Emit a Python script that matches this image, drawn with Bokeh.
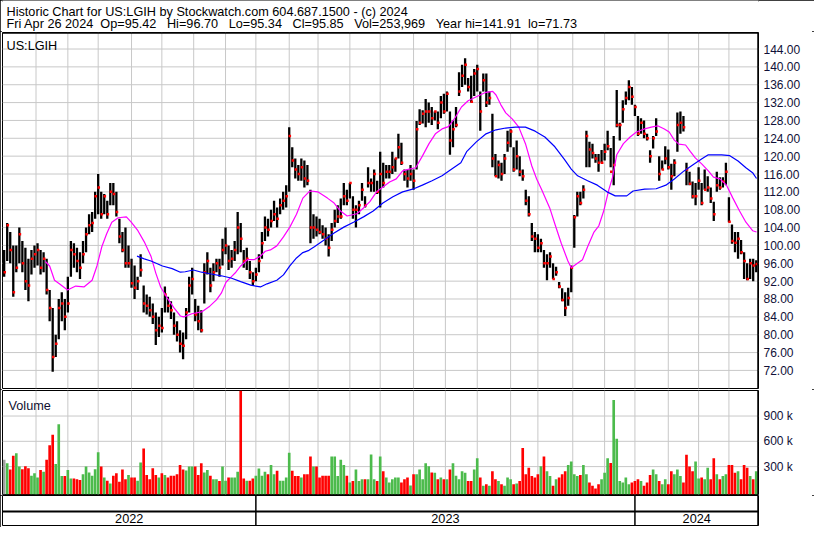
from bokeh.plotting import figure
from bokeh.layouts import column
from bokeh.models import Range1d, FixedTicker, Label, Span, NumeralTickFormatter
from bokeh.embed import file_html
from bokeh.resources import INLINE
from bokeh.core.properties import value

# ---------------- data (one bar = two trading days) ----------------
bar_high = [
    99, 105, 103, 100, 100, 104, 101, 99.5, 97, 99,
    100, 100.5, 99, 98.5, 97, 90, 86, 80, 88, 89.5,
    88, 93, 101, 100.5, 99.5, 98.5, 101, 104, 107, 107.5,
    112, 116, 112, 111.5, 110, 114, 114, 112, 106, 103,
    104, 100, 97, 95.5, 93, 98, 91, 89, 88.5, 87,
    85, 84, 86, 90.8, 88.5, 87.5, 85, 83, 81, 80.5,
    86, 93, 95, 88, 86.5, 85.5, 96, 98.5, 95, 96,
    97, 97, 101.5, 104, 100, 99, 101, 107.5, 105, 99,
    99.5, 96.5, 94, 95, 98, 103, 106.5, 106, 108, 110,
    108.5, 110.5, 112, 113.5, 126.5, 122, 119.5, 118, 119.5, 119,
    118, 112.5, 107, 106.5, 106, 104.5, 104, 102.5, 105, 108,
    109, 110.5, 114, 112.5, 114, 111, 109, 110, 114, 111,
    117.5, 115, 117, 114.5, 121, 118.5, 118, 118, 121, 119.5,
    125, 123, 117, 117, 118, 117, 127.9, 130.5, 130.3, 132.8,
    132, 131, 130, 130, 133.5, 134, 134.5, 130, 128, 131,
    138.8, 140.5, 141.91, 137.5, 138, 139.5, 140.5, 134.5, 138.5, 138.5,
    134.5, 129.5, 120.5, 119, 118.5, 120.5, 125.7, 126, 122, 123.5,
    120, 117, 112.5, 111, 105, 103, 102.5, 101.5, 99, 98,
    98.5, 96, 95.2, 91.8, 90.4, 89.5, 90.5, 95.5, 106.8, 112,
    112, 113.5, 125.7, 123.2, 122.8, 120.5, 120.5, 121.4, 122.8, 125.7,
    121.8, 124.5, 134.8, 127.5, 132.5, 134.5, 137, 135.5, 131.5, 129,
    128.5, 128, 125, 121.3, 124.5, 128.5, 120, 119, 122.2, 121.5,
    118.3, 119.3, 129.8, 130, 129, 118.5, 116.5, 114.3, 114, 117.5,
    114, 117, 115.5, 113, 109.8, 116.5, 115.3, 115.3, 118.5, 110.8,
    104.7, 103, 103, 101.2, 98.5, 96, 97, 97, 96.7,
]
bar_low = [
    93, 96.5, 96, 88.5, 94, 96, 94, 90, 87.5, 93.5,
    95, 95.5, 93.5, 94, 89, 83, 71.73, 75, 79, 83,
    81, 85, 93, 95, 94, 92.5, 96, 98.5, 102.5, 103,
    106, 107, 106, 107, 106, 109, 109, 106.5, 100.5, 98.5,
    95, 95, 90.5, 88, 90, 93, 85, 84.5, 84, 82.4,
    77.7, 79.5, 80.5, 85, 85, 83.5, 80, 78.5, 76, 74.5,
    79, 85, 89, 83, 81, 80.5, 87, 93.5, 89.5, 92,
    94, 93, 95.5, 98, 94.5, 95, 96.5, 98, 98.5, 95,
    94.5, 92.5, 91, 92, 94, 97, 101, 102, 104, 105.5,
    104, 107, 108, 108.5, 112, 117.5, 115, 114.5, 114.5, 113,
    113.5, 100.5, 101.5, 102, 102.5, 101.5, 100, 97.5, 101, 104,
    105, 106, 109, 109, 110.5, 106, 104, 107, 110, 108.5,
    113, 112, 112, 111.5, 108.5, 113, 115, 115, 116, 116.5,
    119.5, 118, 114.5, 113, 114.5, 112.5, 117, 127, 127.3, 126.5,
    127.5, 127, 128, 126, 128.5, 129.5, 130, 120.3, 122, 126.5,
    133.5, 135.5, 136, 134.5, 132, 133.5, 134.5, 125.7, 134.5, 131,
    131.5, 117.5, 115.5, 115, 114.5, 116, 121, 122, 116.5, 117,
    115.5, 114.5, 109, 106.5, 101, 98.5, 98.5, 98.5, 95, 92.2,
    95, 92.5, 93.2, 90.4, 87.5, 84.2, 86.5, 89.5, 99.5, 106.5,
    109, 110.5, 117.5, 117.5, 119.5, 118.5, 116.5, 118.5, 119, 121.3,
    117.5, 113.5, 126.5, 123.5, 127.5, 131.5, 132.5, 131.5, 129, 124.5,
    125, 124, 123.5, 118.5, 121.7, 124.5, 114.5, 117, 118.2, 117,
    112.5, 115.5, 121, 125, 125.5, 113.5, 113.5, 110.5, 109, 112.5,
    109, 112.5, 112, 109.5, 105.5, 112, 112.5, 113, 113.5, 105.2,
    100.4, 98.5, 97, 98, 92.5, 92.2, 92.5, 92, 94,
]
bar_close = [
    94, 104.5, 99, 89.5, 95, 102.5, 96, 92, 91, 97,
    98, 99, 95, 97, 90, 86, 75, 78, 86, 87,
    84, 87, 99, 98, 96.5, 95, 98, 102.5, 104.5, 105,
    111, 113, 107, 111, 107, 112, 111.5, 107.5, 102, 99,
    96, 96, 91.5, 90.5, 92, 94.5, 87, 86.5, 85.5, 84,
    81, 82, 81.5, 89, 86.5, 85.5, 82, 80, 78, 77.5,
    85, 91, 92.5, 84.5, 83, 81, 94, 96.5, 91, 94,
    96, 95, 99, 100, 96.5, 97, 99, 104, 101.5, 96.5,
    97, 94, 92, 93.5, 96.5, 100.5, 104, 103.5, 105.5, 107,
    106, 109, 110, 111, 124.5, 119, 117, 116, 117.5, 115,
    114.5, 104, 104, 103.5, 103, 102.5, 101.5, 99.5, 103.5, 105.5,
    106.5, 106.5, 111, 110, 114, 108, 108, 109, 112.5, 109,
    114, 114, 116, 112, 116, 114, 116.5, 116.5, 117.5, 119.5,
    122, 118.5, 116, 115, 116, 114.5, 126, 127.5, 129.5, 130,
    130, 128.5, 130, 127.5, 132, 130, 134, 123.5, 126, 127,
    134.5, 138, 140.5, 135.5, 132.2, 138.5, 139.5, 130, 137, 132,
    133, 119.5, 115.5, 118, 116, 119.5, 123, 125.5, 117, 120,
    116.5, 115.5, 110, 107, 102, 101.5, 99.5, 100.5, 96, 96,
    97.5, 92.5, 94, 90.8, 87.8, 86, 88.2, 95, 106.3, 111,
    109.5, 112.5, 124.5, 121.5, 120.7, 119.5, 118.5, 118.5, 121, 122.2,
    116.5, 118, 127, 127, 130.5, 133, 135.5, 133.3, 131, 125,
    127.5, 125, 124, 120, 124, 125.5, 116, 117, 119.5, 117.5,
    115.5, 118.5, 127, 127.5, 126.5, 117, 113.8, 111, 111, 114.5,
    109.5, 112.5, 113, 110.5, 107, 113.5, 113, 114.3, 116.5, 105.3,
    101, 100.6, 101.5, 98.5, 96.5, 92.5, 96, 95.5, 95.85,
]
volume_k = [
    380, 340, 265, 430, 458, 300, 270, 304, 280, 190,
    220, 170, 260, 240, 380, 554, 677, 330, 804, 188,
    188, 260, 160, 160, 150, 140, 210, 300, 230, 190,
    270, 470, 300, 170, 131, 100, 190, 220, 120, 265,
    150, 200, 170, 170, 131, 350, 515, 200, 150, 280,
    200, 170, 220, 200, 170, 190, 190, 210, 320, 265,
    255, 300, 300, 300, 200, 340, 230, 260, 190, 150,
    150, 130, 300, 131, 170, 170, 170, 240, 1250, 160,
    131, 131, 160, 190, 277, 190, 240, 210, 320, 210,
    250, 131, 131, 170, 465, 250,
    188, 188, 170, 208, 208, 420, 300, 300, 170, 190,
    190, 190, 420, 420, 188, 380, 320, 190, 110, 130,
    265, 130, 150, 150, 150, 445, 150, 130, 420, 245,
    170, 112, 150, 170, 170, 112, 150, 170, 75, 208,
    208, 265, 150, 340, 304, 230, 227, 150, 170, 150,
    150, 265, 340, 190, 150,
    245, 227, 130, 130, 265, 400, 170, 73, 92, 73,
    245, 150, 130, 92, 73, 170, 150, 92, 100, 130,
    520, 208, 285, 188, 170, 208, 304, 420, 245, 188,
    73, 150, 170, 208, 245, 320, 360, 208, 188, 200,
    320, 208, 112, 73, 40, 92, 150, 227, 400, 342,
    1090, 630, 130, 110, 170, 90, 112, 130, 150, 130,
    73, 112, 200, 265, 208, 130, 92, 150, 92, 245,
    208, 265, 188, 112, 440, 300, 245, 360, 160, 170,
    150, 285, 150, 400, 208, 150, 188, 208, 320, 320,
    227, 245, 150, 320, 285, 188, 150, 245,
]
# moving averages, sampled (position in bar index, value)
ma_fast_pos = [13.6, 15, 16.6, 18.2, 20.9, 23.6, 26.3, 29, 30.6, 32.2, 33.8, 35.5, 37.6, 40.3, 41.9, 44.1,
               46.2, 48.4, 50, 51.6, 53.8, 56, 58.1, 59.2, 61.9, 65.1, 67.8, 70, 71.6, 73.2, 74.8, 76.4,
               78, 80.2, 82.4, 84.5, 86.1, 87.8, 89.9, 92.1, 94.2, 96.4, 98.5, 100.5, 101.2, 103.4, 106.6,
               108.8, 110.9, 113.1, 116.3, 118.5, 120.6, 122.8, 124.9, 127.1, 129.3, 131.4, 133.6, 135.7,
               137.9, 140.1, 142.2, 144.4, 146.5, 148.7, 150.8, 153, 155.7, 158.9, 161.1, 162.2, 163.8,
               165.4, 167.6, 169.7, 171.9, 174, 175.6, 177.3, 179.9, 181.6, 183.7, 185.9, 187, 188.6,
               190.7, 192.4, 194.5, 196.1, 197.7, 199.4, 200.6, 202, 204.2, 206.4, 208.5, 211.2, 213.4,
               215.5, 217.7, 219.3, 221, 222.5, 224.7, 226.3, 227.9, 230.1, 232.2, 233.9, 236, 238.2,
               240.3, 242.5, 244.6, 246.8, 248.1]
ma_fast_val = [96.4, 95.4, 92.2, 91.4, 90, 90.9, 90.7, 92.2, 95.4, 99.7, 102.6, 105.2, 106.2, 106.4, 105.2,
               103.3, 100.8, 97.6, 93.8, 90.7, 88.2, 86, 84.2, 84, 84.7, 85.1, 86.4, 87.8, 89.3, 91.8, 92.9,
               94, 95.4, 96.8, 96.8, 97.6, 98.7, 99, 99.9, 101.9, 104.1, 107, 110.6, 112, 112.2, 112, 110.6,
               109.5, 107.7, 106.6, 107.1, 108.4, 109.8, 112, 113.1, 114.2, 114.9, 116.7, 117.1, 117.4,
               120, 122.8, 125, 126.1, 126.6, 128.6, 131, 132.4, 133.3, 134.3, 134.5, 133.7, 131.5, 129.7,
               128.3, 126.5, 122.8, 117.8, 114.9, 112.4, 108.4, 104.8, 100.5, 96.5, 95, 95.8, 96.8, 99.7,
               103, 104.4, 107.7, 112.5, 115.2, 120.3, 122.8, 124.3, 125.4, 126.1, 126.5, 126.8, 126.1,
               125.4, 123.6, 122.7, 122.5, 121, 119.6, 118.2, 116.7, 115.3, 114.9, 113.5, 110.6, 107.7,
               105.2, 103.3, 103]
ma_slow_pos = [43.8, 46.2, 48.4, 50.5, 52.2, 55.4, 58.1, 59.7, 62.4, 65.1, 68.3, 71.6, 74.8, 78, 81.3, 84.5,
               86.7, 89.9, 92.1, 94.2, 96.4, 98.5, 100.5, 102.3, 105.5, 108.8, 112, 115.2, 118.5, 121.7,
               124.9, 128.2, 131.4, 134.7, 137.9, 141.1, 144.4, 147.6, 150.6, 152.5, 155.7, 158.9, 162.2,
               165.4, 168.6, 171.9, 175.1, 178.3, 181.6, 184.8, 187, 189.1, 192.4, 195.6, 198.8, 201.5,
               205.3, 207.4, 211.2, 215, 218.2, 221, 224.2, 227.4, 230.1, 232.2, 236.6, 239.3, 242, 244.6,
               246.8, 248.1]
ma_slow_val = [97.6, 97, 96.5, 95.9, 95.4, 94.8, 94, 94.1, 94.5, 94, 93.6, 93.2, 92.7, 91.9, 91.1, 90.7,
               91.4, 92.2, 93.4, 95.4, 97.2, 98.4, 98.9, 99.7, 101.2, 102.8, 104.1, 105.2, 106.4, 107.7,
               109.5, 110.9, 112, 112.6, 113.5, 114.5, 115.6, 117.1, 118.5, 121, 123.2, 125, 125.9, 126.3,
               126.5, 126.5, 125.6, 124.3, 122.1, 119.2, 117.1, 115.6, 114.5, 113.5, 112, 111.1, 111.1,
               112.2, 112.6, 112.7, 113.5, 114.9, 116.7, 118.2, 119.4, 120.3, 120.3, 120.1, 118.9, 117.4,
               116.3, 115]
# month gridlines and year boundaries, in trading days from the chart start
month_ticks = [24, 45, 65, 87, 107, 128, 149, 169, 191, 210, 231, 251, 273, 294, 315, 337, 355, 378,
               399, 419, 441, 461, 481]
year_starts = [169, 419]
year_labels = ["2022", "2023", "2024"]
price_ticks = [72, 76, 80, 84, 88, 92, 96, 100, 104, 108, 112, 116, 120, 124, 128, 132, 136, 140, 144]
vol_ticks = [300000, 600000, 900000]
vol_tick_labels = ["300 k", "600 k", "900 k"]
title_line1 = "Historic Chart for US:LGIH by Stockwatch.com 604.687.1500 - (c) 2024"
title_line2 = ("Fri Apr 26 2024\u00a0\u00a0Op=95.42\u00a0\u00a0\u00a0Hi=96.70\u00a0\u00a0\u00a0Lo=95.34"
               "\u00a0\u00a0\u00a0Cl=95.85\u00a0\u00a0\u00a0Vol=253,969\u00a0\u00a0\u00a0Year hi=141.91"
               "\u00a0\u00a0lo=71.73")
symbol = "US:LGIH"

# ---------------- layout / style ----------------
W = 814
RIGHT = 56
FONT = "Liberation Sans"
GRID_C = "#c8c8c8"
LBL_C = "#101038"
GREEN = "#4cbb4c"
RED = "#ff0000"
X_START, X_END = 1.9, 500.5
P_LO, P_HI = 67.95, 147.7
V_LO, V_HI = -31000, 1203000

n = len(bar_close)
t = [3 + 2 * k for k in range(n)]
vol = [v * 1000 for v in volume_k]
vol_colors = ["#a0a0a0"] + [GREEN if bar_close[i] >= bar_close[i - 1] else RED for i in range(1, n)]

xr = Range1d(X_START, X_END)


def add_gridlines(p, xticks, yticks):
    for xt in xticks:
        p.add_layout(Span(location=xt, dimension="height", line_color=GRID_C, line_width=1,
                          level="underlay"))
    for yt in yticks:
        p.add_layout(Span(location=yt, dimension="width", line_color=GRID_C, line_width=1,
                          level="underlay"))


def make_fig(h, yr, top, bottom, yaxis=True):
    p = figure(width=W, height=h, x_range=xr, y_range=yr, toolbar_location=None,
               output_backend="svg", x_axis_location=None,
               y_axis_location="right" if yaxis else None,
               min_border_left=2, min_border_right=RIGHT,
               min_border_top=top, min_border_bottom=bottom)
    p.xgrid.visible = False
    p.ygrid.visible = False
    p.outline_line_color = "black"
    p.outline_line_width = 1
    p.background_fill_color = "white"
    p.border_fill_color = "white"
    p.add_layout(Span(location=X_END, dimension="height", line_color="black", line_width=2.5))
    if yaxis:
        ax = p.yaxis[0]
        ax.axis_line_color = None
        ax.major_tick_line_color = None
        ax.minor_tick_line_color = None
        ax.major_tick_out = 0
        ax.major_tick_in = 0
        ax.minor_tick_out = 0
        ax.minor_tick_in = 0
        ax.major_label_standoff = 5
        ax.major_label_text_font = FONT
        ax.major_label_text_font_size = "12px"
        ax.major_label_text_color = LBL_C
    return p


# header
hdr = figure(width=W, height=31, x_range=Range1d(0, 1), y_range=Range1d(0, 1),
             toolbar_location=None, output_backend="svg", x_axis_location=None,
             y_axis_location=None, min_border=0)
hdr.xgrid.visible = False
hdr.ygrid.visible = False
hdr.outline_line_color = None
hdr.border_fill_color = "white"
hdr.add_layout(Label(x=0, y=1, x_offset=4, y_offset=-11, text=title_line1, text_font=FONT,
                     text_font_size="12.7px", text_color="black", text_baseline="alphabetic"))
hdr.add_layout(Label(x=0, y=1, x_offset=4, y_offset=-23, text=title_line2, text_font=FONT,
                     text_font_size="12.7px", text_color="black", text_baseline="alphabetic"))

# price pane
pp = make_fig(358, Range1d(P_LO, P_HI), 1, 1)
pp.yaxis.ticker = FixedTicker(ticks=price_ticks)
pp.yaxis.formatter = NumeralTickFormatter(format="0.00")
add_gridlines(pp, month_ticks, price_ticks)
pp.add_layout(Span(location=P_HI, dimension="width", line_color="black", line_width=2.5))
pp.segment(x0=t, y0=bar_low, x1=t, y1=bar_high, line_color="black", line_width=2.3)
pp.scatter(x=[x + 0.4 for x in t], y=bar_close, marker="square", size=2.5,
           fill_color=RED, line_color=None)
pp.line(x=[3 + 2 * k for k in ma_fast_pos], y=ma_fast_val, line_color="#ff00ff", line_width=1.2)
pp.line(x=[3 + 2 * k for k in ma_slow_pos], y=ma_slow_val, line_color="#0000ff", line_width=1.2)
pp.add_layout(Label(x=X_START, y=P_HI, x_offset=4, y_offset=-13, text=symbol, text_font=FONT,
                    text_font_size="12.7px", text_color="black", text_baseline="alphabetic"))

# volume pane
vp = make_fig(106, Range1d(V_LO, V_HI), 1, 1)
vp.yaxis.ticker = FixedTicker(ticks=vol_ticks)
vp.yaxis.major_label_overrides = {tk: lb for tk, lb in zip(vol_ticks, vol_tick_labels)}
add_gridlines(vp, month_ticks, vol_ticks)
vp.vbar(x=t, width=1.75, top=vol, bottom=V_LO, fill_color=vol_colors, line_color=None)
vp.add_layout(Label(x=X_START, y=V_HI, x_offset=6, y_offset=-15.5, text="Volume", text_font=FONT,
                    text_font_size="12.7px", text_color="#101030", text_baseline="alphabetic"))

# year strip
yp = make_fig(32, Range1d(0, 30), 0, 2, yaxis=False)
yp.add_layout(Span(location=14, dimension="width", line_color="black", line_width=2))
for ys in year_starts:
    yp.add_layout(Span(location=ys, dimension="height", line_color="black", line_width=1.5))
bounds = [X_START] + year_starts + [X_END]
mids = [(bounds[i] + bounds[i + 1]) / 2 for i in range(len(year_labels))]
yp.text(x=mids, y=[7] * len(mids), text=year_labels, text_align="center", text_baseline="middle",
        text_font=value(FONT), text_font_size=value("12.7px"), text_color="black")

layout = column(hdr, pp, vp, yp, styles={"outline": "2px solid black", "outline-offset": "-2px"})

open("out.html", "w").write(file_html(layout, INLINE))
